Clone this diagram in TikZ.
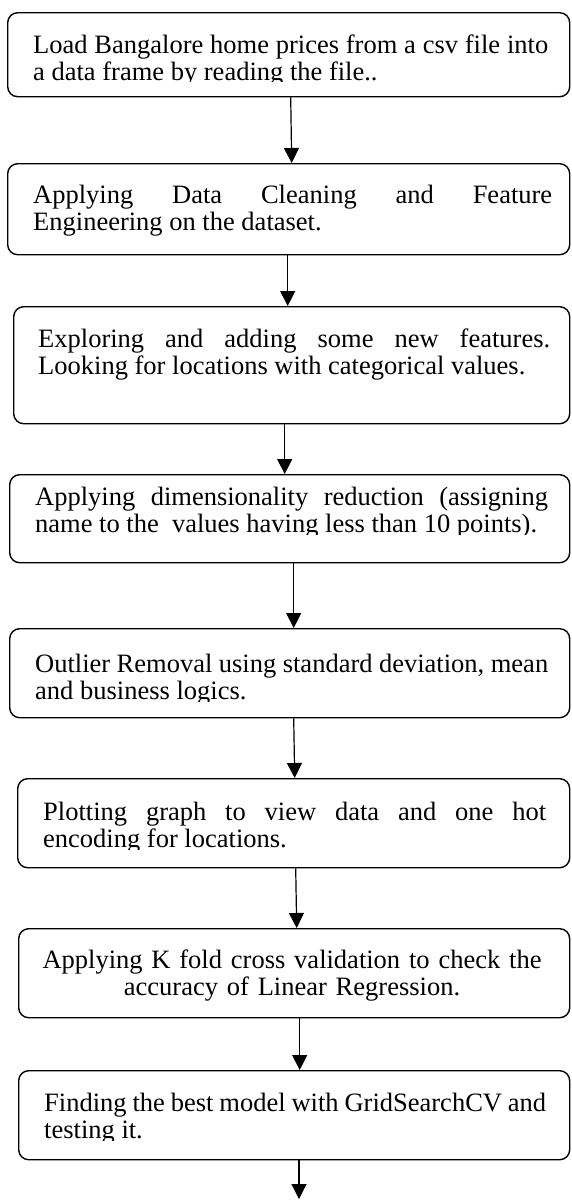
\documentclass[tikz,border=0pt]{standalone}
\usepackage{fontspec}
\setmainfont{Liberation Serif}
\usetikzlibrary{arrows.meta,calc}
\newcommand\flowfont{\fontsize{26.5pt}{27pt}\selectfont}
\begin{document}
\begin{tikzpicture}[x=1pt,y=-1pt,
  stepbox/.style={draw=black,line width=1.4pt,rounded corners=10pt,inner sep=0pt,anchor=north west},
  steptext/.style={anchor=base west,inner sep=0pt,align=justify,font=\flowfont},
  flowarrow/.style={line width=1.2pt,-{Triangle[length=15pt,width=15pt]}}]
\useasboundingbox (0,0) rectangle (571,1200);
\fill[white] (0,0) rectangle (571,1200);

% boxes
\node[stepbox,minimum width=562pt,minimum height=84pt] (b1) at (7,12) {};
\node[stepbox,minimum width=562pt,minimum height=91pt] (b2) at (7,163) {};
\node[stepbox,minimum width=556pt,minimum height=117pt] (b3) at (13,306) {};
\node[stepbox,minimum width=560pt,minimum height=88pt] (b4) at (9,474) {};
\node[stepbox,minimum width=560pt,minimum height=89pt] (b5) at (9,628) {};
\node[stepbox,minimum width=552pt,minimum height=89pt] (b6) at (17,778) {};
\node[stepbox,minimum width=551pt,minimum height=89pt] (b7) at (18,928) {};
\node[stepbox,minimum width=551pt,minimum height=89pt] (b8) at (18,1070) {};

% texts (the last line of some boxes is cut by the box's text frame)
\begin{scope}
  \clip (0,0) rectangle (571,81.5);
  \node[steptext,text width=515pt] (t1) at (33,53)
    {Load Bangalore home prices from a csv file into\linebreak a data frame by reading the file..};
\end{scope}
\node[steptext,text width=519pt] (t2) at (33,203)
  {Applying Data Cleaning and Feature\linebreak Engineering on the dataset.};
\node[steptext,text width=512pt] (t3) at (38,347)
  {Exploring and adding some new features.\linebreak Looking for locations with categorical values.};
\begin{scope}
  \clip (0,470) rectangle (571,534);
  \node[steptext,text width=513pt] (t4) at (35,505)
    {Applying dimensionality reduction (assigning\linebreak name to the\ \ values having less than 10 points).};
\end{scope}
\begin{scope}
  \clip (0,625) rectangle (571,701);
  \node[steptext,text width=513pt] (t5) at (35,672)
    {Outlier Removal using standard deviation, mean\linebreak and business logics.};
\end{scope}
\begin{scope}
  \clip (0,775) rectangle (571,849);
  \node[steptext,text width=503pt] (t6) at (43,820)
    {Plotting graph to view data and one hot\linebreak encoding for locations.};
\end{scope}
\node[steptext,anchor=base,align=center,text width=540pt] (t7) at (292,968)
  {Applying K fold cross validation to check the\\ accuracy of Linear Regression.};
\begin{scope}
  \clip (0,1065) rectangle (571,1140);
  \node[steptext,text width=502pt] (t8) at (44,1111)
    {Finding the best model with GridSearchCV and\linebreak testing it.};
\end{scope}

% connectors
\coordinate (end) at (299,1199);
\draw[flowarrow] ($(b1.south)+(2,0)$) -- ($(b2.north)+(3,0)$);
\draw[flowarrow] ($(b2.south)+(-1,0)$) -- ($(b3.north)+(-4,0)$);
\draw[flowarrow] ($(b3.south)+(-7,0)$) -- ($(b4.north)+(-5,0)$);
\draw[flowarrow] ($(b4.south)+(4,0)$) -- ($(b5.north)+(4,0)$);
\draw[flowarrow] ($(b5.south)+(4,0)$) -- ($(b6.north)+(1,0)$);
\draw[flowarrow] ($(b6.south)+(2,0)$) -- ($(b7.north)+(2.5,0)$);
\draw[flowarrow] ($(b7.south)+(5.5,0)$) -- ($(b8.north)+(5.5,0)$);
\draw[flowarrow] (b8.south -| end) -- (end);
\end{tikzpicture}
\end{document}
